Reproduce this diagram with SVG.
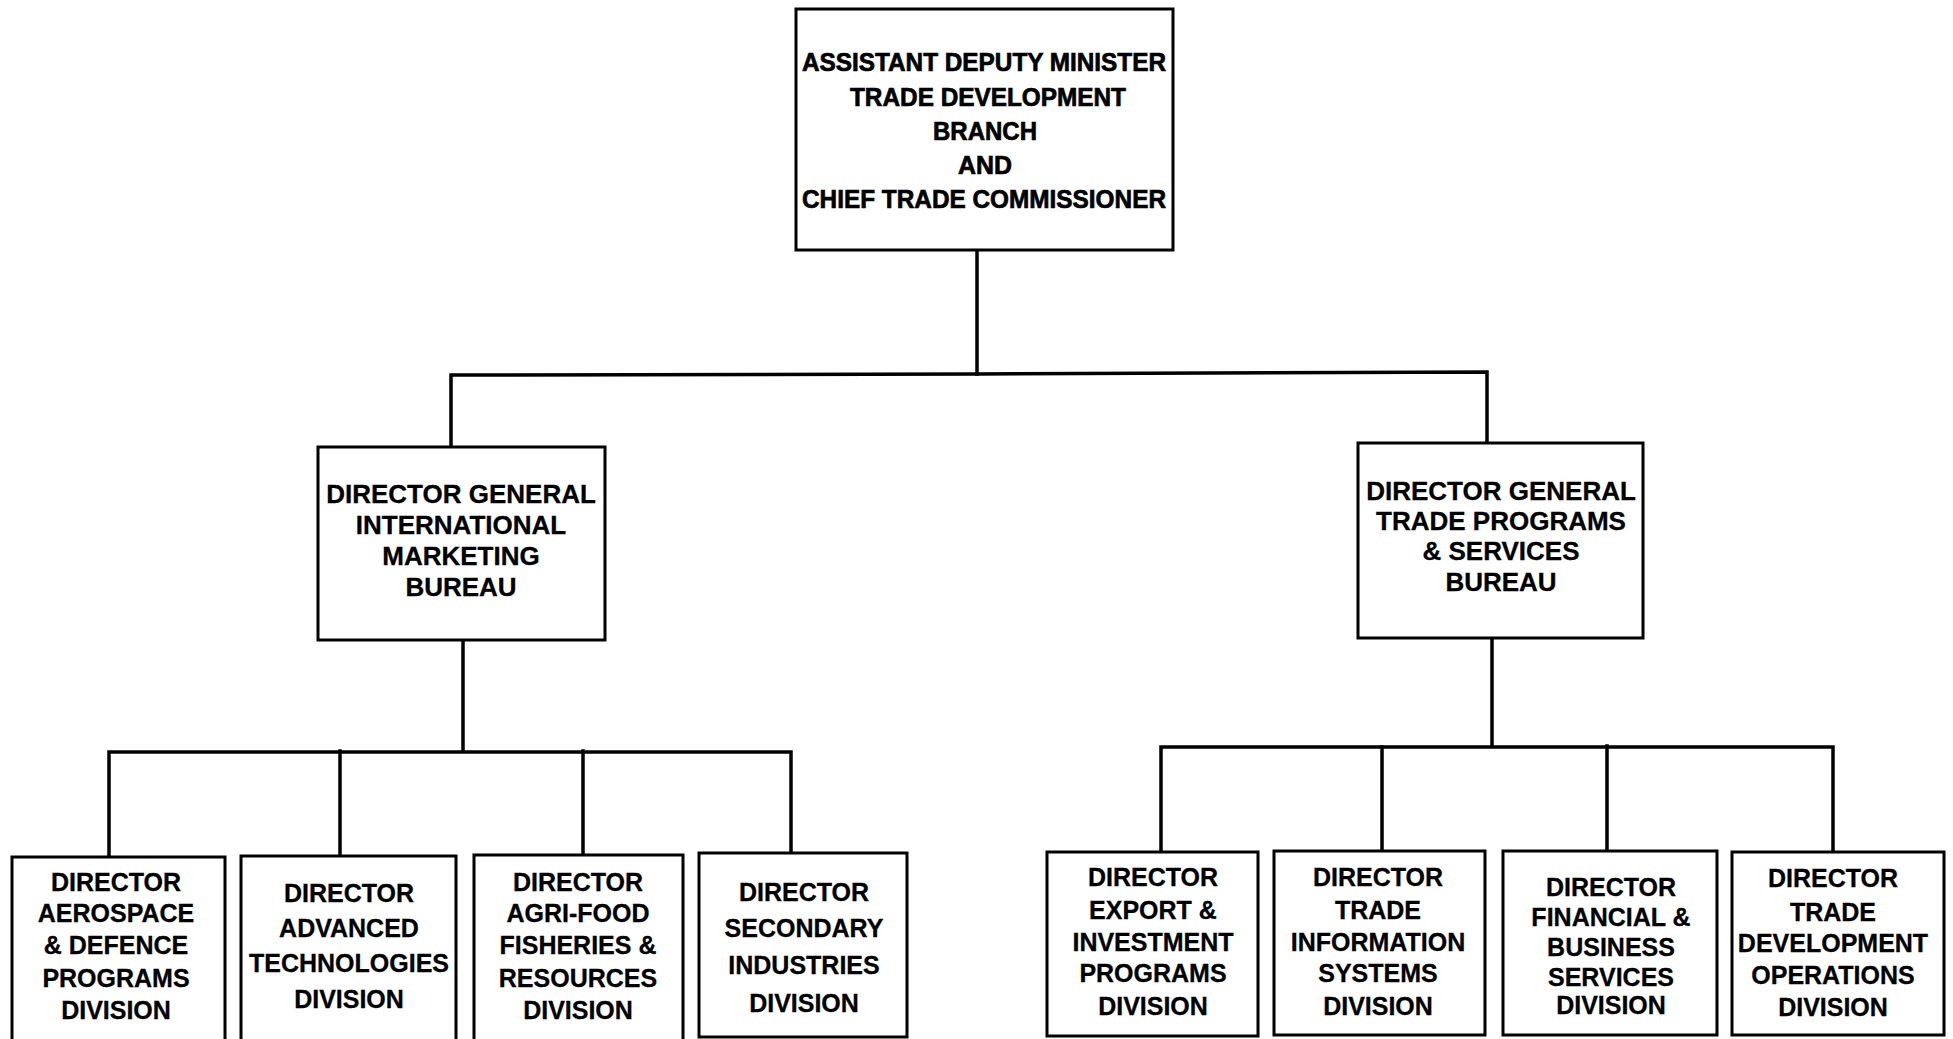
<svg xmlns="http://www.w3.org/2000/svg" width="1953" height="1039" viewBox="0 0 1953 1039">
<style>
.box{fill:#fff;stroke:#000;stroke-width:3}
.con{fill:none;stroke:#000;stroke-width:3.5;stroke-linecap:square}
text{font-family:"Liberation Sans",Arial,sans-serif;font-weight:bold;fill:#000;text-anchor:middle}
.t1{font-size:26px;stroke:#000;stroke-width:0.7}
.t2{font-size:26px;stroke:#000;stroke-width:0.3}
.t3{font-size:25px;stroke:#000;stroke-width:0.3}
</style>
<rect width="1953" height="1039" fill="#fff"/>
<g id="connectors">
<path class="con" d="M977 250 V374"/>
<path class="con" d="M451 447 V375 L977 374 L1487 372 V443"/>
<path class="con" d="M463 640 V751"/>
<path class="con" d="M109 857 V752 H791 V853"/>
<path class="con" d="M340 751 V856"/>
<path class="con" d="M583 751 V855"/>
<path class="con" d="M1492 638 V746"/>
<path class="con" d="M1161 852 V747 H1833 V852"/>
<path class="con" d="M1382 747 V851"/>
<path class="con" d="M1607 746 V851"/>
</g>
<g id="adm">
<rect class="box" x="796" y="9" width="377" height="241"/>
<text class="t1" x="984" y="71" textLength="364" lengthAdjust="spacingAndGlyphs">ASSISTANT DEPUTY MINISTER</text>
<text class="t1" x="988" y="106" textLength="276" lengthAdjust="spacingAndGlyphs">TRADE DEVELOPMENT</text>
<text class="t1" x="985" y="140" textLength="104" lengthAdjust="spacingAndGlyphs">BRANCH</text>
<text class="t1" x="985" y="174" textLength="54" lengthAdjust="spacingAndGlyphs">AND</text>
<text class="t1" x="984" y="208" textLength="364" lengthAdjust="spacingAndGlyphs">CHIEF TRADE COMMISSIONER</text>
</g>
<g id="dg-imb">
<rect class="box" x="318" y="447" width="287" height="193"/>
<text class="t2" x="461" y="503">DIRECTOR GENERAL</text>
<text class="t2" x="461" y="534">INTERNATIONAL</text>
<text class="t2" x="461" y="565">MARKETING</text>
<text class="t2" x="461" y="596">BUREAU</text>
</g>
<g id="dg-tpsb">
<rect class="box" x="1358" y="443" width="285" height="195"/>
<text class="t2" x="1501" y="500">DIRECTOR GENERAL</text>
<text class="t2" x="1501" y="530">TRADE PROGRAMS</text>
<text class="t2" x="1501" y="560">&amp; SERVICES</text>
<text class="t2" x="1501" y="591">BUREAU</text>
</g>
<g id="d-aerospace">
<rect class="box" x="12" y="857" width="213" height="200"/>
<text class="t3" x="116" y="891">DIRECTOR</text>
<text class="t3" x="116" y="922">AEROSPACE</text>
<text class="t3" x="116" y="954">&amp; DEFENCE</text>
<text class="t3" x="116" y="987">PROGRAMS</text>
<text class="t3" x="116" y="1019">DIVISION</text>
</g>
<g id="d-advtech">
<rect class="box" x="241" y="856" width="215" height="200"/>
<text class="t3" x="349" y="902">DIRECTOR</text>
<text class="t3" x="349" y="937">ADVANCED</text>
<text class="t3" x="349" y="972">TECHNOLOGIES</text>
<text class="t3" x="349" y="1008">DIVISION</text>
</g>
<g id="d-agrifood">
<rect class="box" x="474" y="855" width="209" height="200"/>
<text class="t3" x="578" y="891">DIRECTOR</text>
<text class="t3" x="578" y="922">AGRI-FOOD</text>
<text class="t3" x="578" y="954">FISHERIES &amp;</text>
<text class="t3" x="578" y="987">RESOURCES</text>
<text class="t3" x="578" y="1019">DIVISION</text>
</g>
<g id="d-secondary">
<rect class="box" x="699" y="853" width="208" height="184"/>
<text class="t3" x="804" y="901">DIRECTOR</text>
<text class="t3" x="804" y="937">SECONDARY</text>
<text class="t3" x="804" y="974">INDUSTRIES</text>
<text class="t3" x="804" y="1012">DIVISION</text>
</g>
<g id="d-export">
<rect class="box" x="1047" y="852" width="211" height="184"/>
<text class="t3" x="1153" y="886">DIRECTOR</text>
<text class="t3" x="1153" y="919">EXPORT &amp;</text>
<text class="t3" x="1153" y="951">INVESTMENT</text>
<text class="t3" x="1153" y="982">PROGRAMS</text>
<text class="t3" x="1153" y="1015">DIVISION</text>
</g>
<g id="d-tradeinfo">
<rect class="box" x="1274" y="851" width="211" height="184"/>
<text class="t3" x="1378" y="886">DIRECTOR</text>
<text class="t3" x="1378" y="919">TRADE</text>
<text class="t3" x="1378" y="951">INFORMATION</text>
<text class="t3" x="1378" y="982">SYSTEMS</text>
<text class="t3" x="1378" y="1015">DIVISION</text>
</g>
<g id="d-financial">
<rect class="box" x="1503" y="851" width="214" height="184"/>
<text class="t3" x="1611" y="896">DIRECTOR</text>
<text class="t3" x="1611" y="926">FINANCIAL &amp;</text>
<text class="t3" x="1611" y="956">BUSINESS</text>
<text class="t3" x="1611" y="986">SERVICES</text>
<text class="t3" x="1611" y="1014">DIVISION</text>
</g>
<g id="d-tdo">
<rect class="box" x="1732" y="852" width="212" height="183"/>
<text class="t3" x="1833" y="887">DIRECTOR</text>
<text class="t3" x="1833" y="921">TRADE</text>
<text class="t3" x="1833" y="952">DEVELOPMENT</text>
<text class="t3" x="1833" y="984">OPERATIONS</text>
<text class="t3" x="1833" y="1016">DIVISION</text>
</g>
</svg>
